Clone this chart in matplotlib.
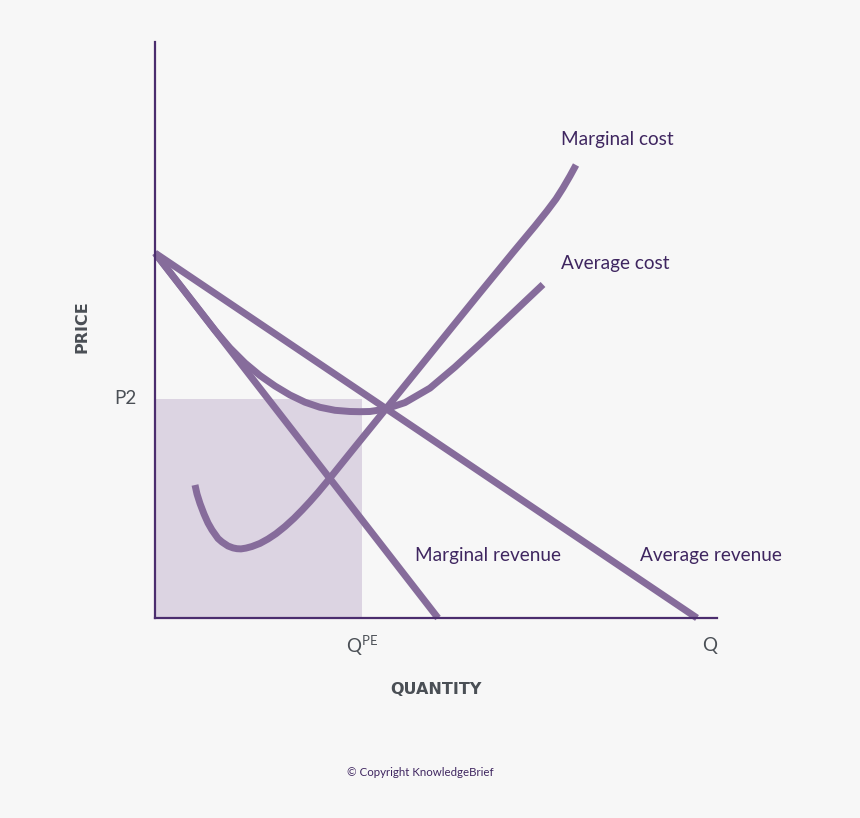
import matplotlib
matplotlib.use("Agg")
import matplotlib.pyplot as plt
from matplotlib.patches import Rectangle

plt.rcParams['font.family'] = ['Lato', 'DejaVu Sans']

# data, measured from the origin of the diagram (x right, y up)
ar_x = [0, 542]
ar_y = [365, 0]

mr_x = [0, 283]
mr_y = [365, 0]

mc_x = [40, 42, 45, 49, 53, 57, 63, 67, 73, 78, 82, 86, 91, 97, 105, 113, 121, 130, 139,
        147, 155, 163, 173, 200, 230, 265, 295, 325, 358, 380, 392, 401, 408, 415, 421]
mc_y = [133, 124, 114.5, 104, 95, 88, 79.5, 76, 72, 70.1, 69.3, 69.1, 69.9, 71.5, 74.6,
        79, 84.3, 91.5, 99.7, 107.8, 116.4, 125.5, 137.5, 171, 208, 251.2, 288.3, 325.3,
        365.6, 392, 407, 419, 430, 442, 453]

ac_x = [3, 30, 60, 75, 90, 105, 120, 135, 150, 165, 180, 195, 205, 215, 230, 250, 275,
        300, 325, 350, 370, 388]
ac_y = [361, 326.3, 287.6, 270, 255, 242.5, 232, 223, 215.8, 210.7, 207.7, 206.5, 206.3,
        206.5, 208.8, 215.4, 229.9, 251, 274, 297.5, 316.5, 333.5]

q_pe = 207
p2 = 219
q_end = 562
y_top = 576

bg = '#f7f7f7'
curve = '#866c9b'
fill = '#dcd4e2'
axis_col = '#4b2d6e'
label_col = '#3f2660'
grey = '#4a4f55'

fig = plt.figure(figsize=(8.6, 8.18), dpi=100, facecolor=bg)
ax = fig.add_axes([0, 0, 1, 1])
ax.set_facecolor(bg)
ax.set_xlim(-155, 705)
ax.set_ylim(-200, 618)

# profit box
ax.add_patch(Rectangle((0, 0), q_pe, p2, facecolor=fill, edgecolor='none', zorder=1))

lw = 5
ax.plot(ar_x, ar_y, color=curve, lw=lw, solid_capstyle='butt', zorder=3)
ax.plot(mr_x, mr_y, color=curve, lw=lw, solid_capstyle='butt', zorder=3)
ax.plot(ac_x, ac_y, color=curve, lw=lw, solid_capstyle='butt', solid_joinstyle='round', zorder=3)
ax.plot(mc_x, mc_y, color=curve, lw=lw, solid_capstyle='butt', solid_joinstyle='round', zorder=3)

# axes lines
ax.plot([0, 0], [0, y_top], color=axis_col, lw=1.6, zorder=4)
ax.plot([0, q_end], [0, 0], color=axis_col, lw=1.6, zorder=4)

for s in ax.spines.values():
    s.set_visible(False)
ax.set_xticks([])
ax.set_yticks([])

# curve labels
fs = 13.7
ax.text(406, 479, 'Marginal cost', color=label_col, fontsize=fs, va='center', ha='left')
ax.text(406, 354, 'Average cost', color=label_col, fontsize=fs, va='center', ha='left')
ax.text(260, 62, 'Marginal revenue', color=label_col, fontsize=fs, va='center', ha='left')
ax.text(485, 62, 'Average revenue', color=label_col, fontsize=fs, va='center', ha='left')

# tick labels
ax.text(-18, p2, 'P2', color=grey, fontsize=13.5, va='center', ha='right')
ax.text(q_pe, -28, r'Q$^{\mathregular{PE}}$', color=grey, fontsize=13.5, va='center', ha='center')
ax.text(555, -28, 'Q', color=grey, fontsize=13.5, va='center', ha='center')

# axis titles
ax.text(-73, 291, 'PRICE', color=grey, fontsize=11.5, fontweight='bold', rotation=90,
        va='center', ha='center', family='DejaVu Sans')
ax.text(281, -72, 'QUANTITY', color=grey, fontsize=11.5, fontweight='bold',
        va='center', ha='center', family='DejaVu Sans')

ax.text(265, -154, '\u00a9 Copyright KnowledgeBrief', color=label_col, fontsize=8.3,
        va='center', ha='center')

fig.savefig('out.png', dpi=100, facecolor=bg)
